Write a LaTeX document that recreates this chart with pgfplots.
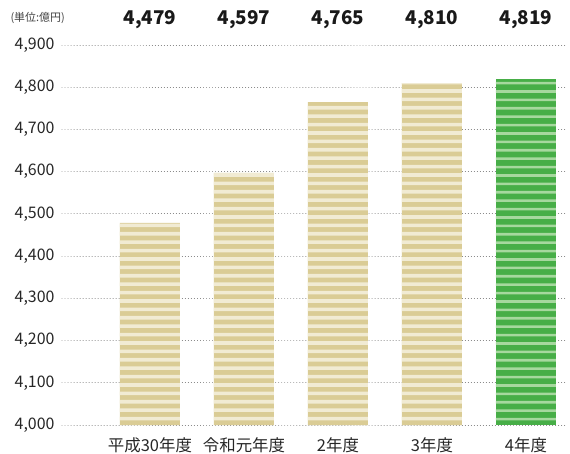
\documentclass[border=0pt]{standalone}
\usepackage{pgfplots}
\pgfplotsset{compat=1.18}
\usepackage{fontspec}
\setmainfont{Noto Sans CJK JP}
\usetikzlibrary{patterns}
\definecolor{tandark}{HTML}{DACC95}
\definecolor{tanlight}{HTML}{F1EBD3}
\definecolor{grdark}{HTML}{47AE47}
\definecolor{grlight}{HTML}{A6D89E}
\pgfdeclarepatternformonly{tanstripes}{\pgfpoint{0bp}{0bp}}{\pgfpoint{600bp}{604.8bp}}{\pgfpoint{600bp}{604.8bp}}{%
  \foreach \k in {0,...,71}{%
    \pgfpathrectangle{\pgfpoint{0bp}{\k*8.4bp}}{\pgfpoint{600bp}{3.6bp}}%
  }%
  \pgfusepath{fill}%
}
\pgfdeclarepatternformonly{grstripes}{\pgfpoint{0bp}{0bp}}{\pgfpoint{600bp}{604.8bp}}{\pgfpoint{600bp}{604.8bp}}{%
  \foreach \k in {0,...,71}{%
    \pgfpathrectangle{\pgfpoint{0bp}{\k*8.4bp}}{\pgfpoint{600bp}{2.6bp}}%
  }%
  \pgfusepath{fill}%
}
\begin{document}
\begin{tikzpicture}
\useasboundingbox (0,0) rectangle (570bp,454bp);
\begin{axis}[
  at={(62bp,29bp)}, anchor=south west,
  scale only axis, width=503bp, height=380bp,
  xmin=-0.936, xmax=4.415, ymin=4000, ymax=4900,
  ytick={4000,4100,...,4900},
  xtick={0,1,2,3,4},
  xticklabels={平成30年度,令和元年度,2年度,3年度,4年度},
  /pgf/number format/assume math mode=true,
  /pgf/number format/1000 sep={,},
  yticklabel style={font=\fontsize{16}{18}\selectfont, color=black!85, xshift=-4bp},
  xticklabel style={font=\fontsize{16.5}{18}\selectfont, color=black!85, yshift=-9bp},
  axis line style={draw=none},
  major tick length=0pt,
  ymajorgrids,
  major grid style={draw=black!55, line width=0.9bp, line cap=round, dash pattern=on 0.01bp off 3bp},
  ybar, bar width=60bp, bar shift=0pt,
  clip=false,
]
\addplot[draw=none, fill=tandark,
  postaction={pattern=tanstripes, pattern color=tanlight}]
  coordinates {(0,4479) (1,4597) (2,4765) (3,4810)};
\addplot[draw=none, fill=grdark,
  postaction={pattern=grstripes, pattern color=grlight}]
  coordinates {(4,4819)};
\foreach \i/\v in {0/{4,479},1/{4,597},2/{4,765},3/{4,810},4/{4,819}}{
  \edef\tmp{\noexpand\node[font=\noexpand\fontsize{19}{22}\noexpand\selectfont\noexpand\bfseries, color=black!90] at (axis cs:\i,4900) [yshift=25bp] {\v};}
  \tmp
}
\end{axis}
\node[anchor=west, font=\fontsize{11}{13}\selectfont, color=black!75] at (7bp,436bp) {(単位:億円)};
\end{tikzpicture}
\end{document}
